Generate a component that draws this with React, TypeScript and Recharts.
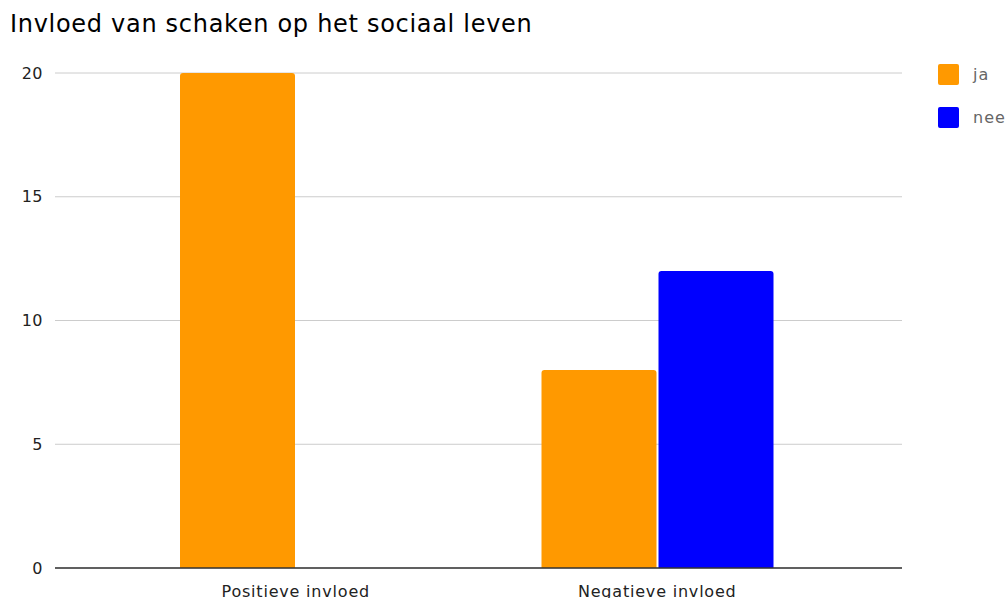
import { BarChart, Bar, XAxis, YAxis, CartesianGrid, ReferenceLine } from 'recharts'

document.body.style.margin = '0'

const categories = ['Positieve invloed', 'Negatieve invloed']
const jaValues = [20, 8]
const neeValues = [0, 12]
const yTicks = [0, 5, 10, 15, 20]

const series = [
  { key: 'ja', color: '#ff9900' },
  { key: 'nee', color: '#0000ff' },
]

const data = categories.map((name, i) => ({ name, ja: jaValues[i], nee: neeValues[i] }))

const font = '"DejaVu Sans", Verdana, sans-serif'

export default function App() {
  return (
    <div style={{ position: 'relative', width: 1007, height: 598, fontFamily: font, overflow: 'hidden', background: '#fff' }}>
      <div style={{ position: 'absolute', left: 10, top: 10, fontSize: 24, letterSpacing: 0.7, color: '#000', whiteSpace: 'nowrap' }}>
        Invloed van schaken op het sociaal leven
      </div>
      <BarChart
        width={1007}
        height={598}
        data={data}
        margin={{ top: 73, right: 105, bottom: 0, left: 0 }}
        barCategoryGap={65}
        barGap={2}
      >
        <CartesianGrid vertical={false} stroke="#cccccc" />
        <XAxis
          dataKey="name"
          axisLine={false}
          tickLine={false}
          tickSize={0}
          tickMargin={18}
          padding={{ left: 60, right: 64 }}
          tick={{ fill: '#222', fontSize: 16, fontFamily: font, letterSpacing: 0.8 }}
          height={30}
        />
        <YAxis
          domain={[0, 20]}
          ticks={yTicks}
          axisLine={false}
          tickLine={false}
          tickSize={0}
          tickMargin={12}
          width={55}
          tick={{ fill: '#222', fontSize: 16, fontFamily: font, letterSpacing: 0.5 }}
        />
        {series.map((s) => (
          <Bar key={s.key} dataKey={s.key} fill={s.color} radius={[3, 3, 0, 0]} isAnimationActive={false} />
        ))}
        <ReferenceLine y={0} stroke="#333" strokeWidth={1.5} />
      </BarChart>
      {series.map((s, i) => (
        <div key={s.key} style={{ position: 'absolute', left: 938, top: 64 + i * 43, display: 'flex', alignItems: 'center' }}>
          <div style={{ width: 21, height: 21, background: s.color, borderRadius: 2 }} />
          <span style={{ marginLeft: 14, fontSize: 16, letterSpacing: 1, color: '#666', lineHeight: '21px' }}>{s.key}</span>
        </div>
      ))}
    </div>
  )
}
